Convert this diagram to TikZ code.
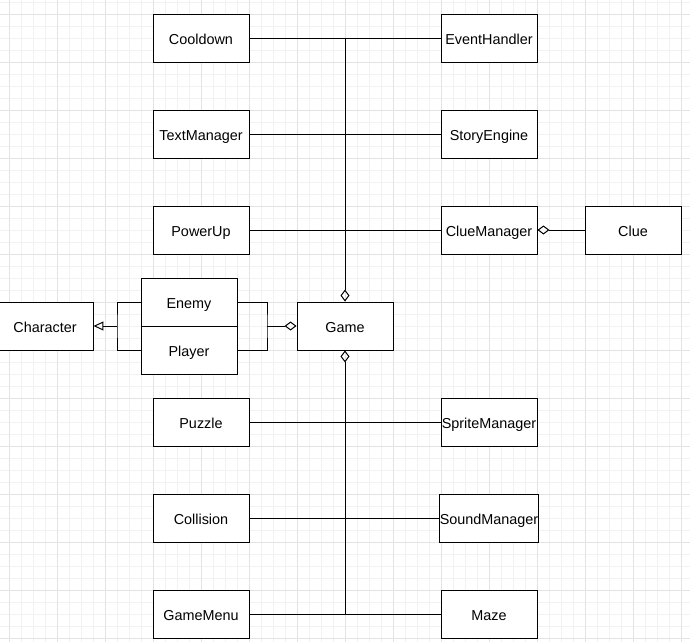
\documentclass[tikz,border=0pt]{standalone}
\usepackage{fontspec}
\setmainfont{Liberation Sans}
\usetikzlibrary{arrows.meta}
\tikzset{
  cls/.style={draw=black, line width=0.95pt, fill=white, minimum width=96pt,
    minimum height=48pt, inner sep=0pt, text height=15pt, text depth=2pt,
    font=\fontsize{14.4}{17}\selectfont},
  link/.style={draw=black, line width=0.95pt},
  aggr/.style={-{Diamond[open, length=12pt, width=9pt, line width=1pt]}},
  raggr/.style={{Diamond[open, length=12pt, width=9pt, line width=1pt]}-},
  inherit/.style={-{Triangle[open, length=10pt, width=9pt, line width=1pt]}},
  minorgrid/.style={draw=black!5, line width=0.8pt},
  majorgrid/.style={draw=black!11, line width=0.9pt}
}
\begin{document}
\begin{tikzpicture}[x=1pt, y=-1pt]
  \useasboundingbox (0,0) rectangle (690,642);
  \fill[white] (0,0) rectangle (690,642);
  % background grid: fine lines every 12, heavy lines every 48
  \foreach \x in {-2.5,9.5,...,690} \draw[minorgrid] (\x,0) -- (\x,642);
  \foreach \y in {2.5,14.5,...,642} \draw[minorgrid] (0,\y) -- (690,\y);
  \foreach \x in {9.5,57.5,...,690} \draw[majorgrid] (\x,0) -- (\x,642);
  \foreach \y in {14.5,62.5,...,642} \draw[majorgrid] (0,\y) -- (690,\y);

  % classes
  \node[cls] (cooldown) at (201,38) {Cooldown};
  \node[cls] (event)    at (489,38) {EventHandler};
  \node[cls] (text)     at (201,134) {TextManager};
  \node[cls] (story)    at (489,134) {StoryEngine};
  \node[cls] (power)    at (201,230) {PowerUp};
  \node[cls] (cluemgr)  at (489,230) {ClueManager};
  \node[cls] (clue)     at (633,230) {Clue};
  \node[cls] (enemy)    at (189,302) {Enemy};
  \node[cls] (player)   at (189,350) {Player};
  \node[cls] (char)     at (45,326) {Character};
  \node[cls] (game)     at (345,326) {Game};
  \node[cls] (puzzle)   at (201,422) {Puzzle};
  \node[cls] (sprite)   at (489,422) {SpriteManager};
  \node[cls] (collide)  at (201,518) {Collision};
  \node[cls] (sound)    at (489,518) {SoundManager};
  \node[cls] (menu)     at (201,614) {GameMenu};
  \node[cls] (maze)     at (489,614) {Maze};

  % trunk line through the middle column
  \coordinate (trunktop) at (game.north |- cooldown.east);
  \coordinate (trunkbot) at (game.south |- menu.east);
  \draw[link, aggr] (trunktop) -- (game.north);
  \draw[link, raggr] (game.south) -- (trunkbot);

  % rows crossing the trunk
  \draw[link] (cooldown.east) -- (event.west);
  \draw[link] (text.east) -- (story.west);
  \draw[link] (power.east) -- (cluemgr.west);
  \draw[link] (puzzle.east) -- (sprite.west);
  \draw[link] (collide.east) -- (sound.west);
  \draw[link] (menu.east) -- (maze.west);

  % clue aggregation
  \draw[link, raggr] (cluemgr.east) -- (clue.west);

  % enemy / player join to game
  \coordinate (rjoin) at (267,326);
  \draw[link] (enemy.east) -| (rjoin) |- (player.east);
  \draw[link, aggr] (rjoin) -- (game.west);

  % enemy / player inherit from character
  \coordinate (ljoin) at (117,326);
  \draw[link] (enemy.west) -| (ljoin) |- (player.west);
  \draw[link, inherit] (ljoin) -- (char.east);
\end{tikzpicture}
\end{document}
